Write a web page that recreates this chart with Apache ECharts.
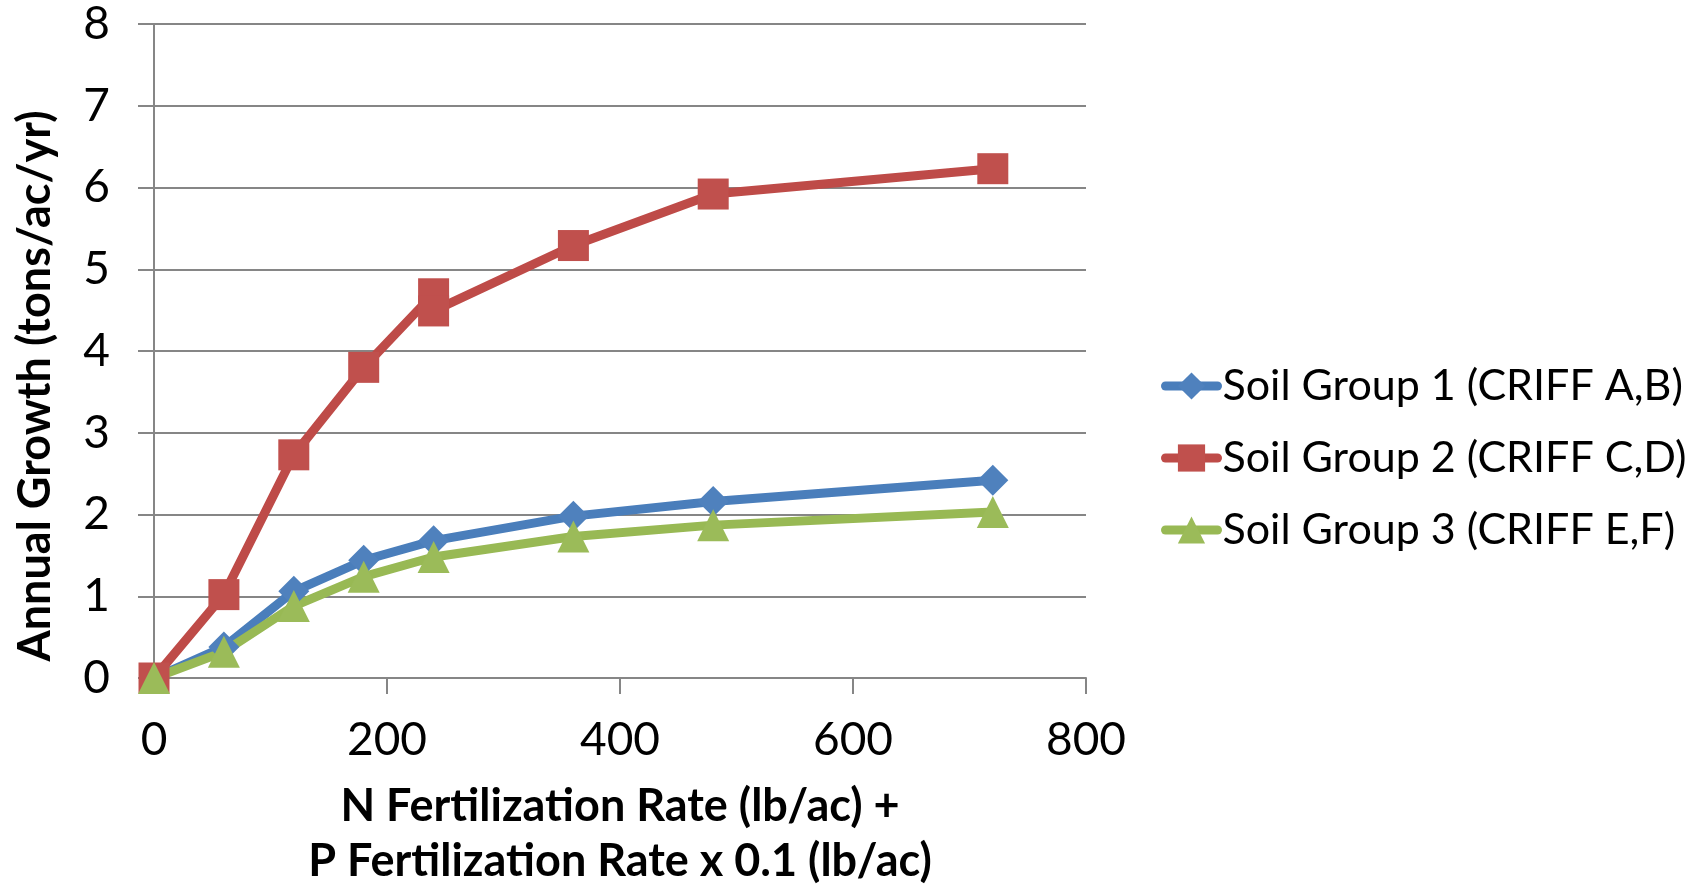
<!DOCTYPE html>
<html>
<head>
<meta charset="utf-8">
<title>Annual Growth vs Fertilization Rate</title>
<script src="https://cdn.jsdelivr.net/npm/echarts@6/dist/echarts.min.js"></script>
<style>
  html, body { margin: 0; padding: 0; background: #ffffff; }
  #chart { width: 1699px; height: 894px; }
</style>
</head>
<body>
<div id="chart"></div>
<script>
// Fertilization rate (N + 0.1 P, lb/ac) for each observation
const rateGroup1 = [0, 60, 120, 180, 240, 360, 480, 720];
const rateGroup2 = [0, 60, 120, 180, 240, 240, 360, 480, 720];
const rateGroup3 = [0, 60, 120, 180, 240, 360, 480, 720];

// Annual growth (tons/ac/yr)
const growthGroup1 = [0, 0.38, 1.06, 1.44, 1.68, 1.98, 2.16, 2.42];
const growthGroup2 = [0, 1.02, 2.73, 3.80, 4.70, 4.49, 5.29, 5.92, 6.23];
const growthGroup3 = [0, 0.32, 0.88, 1.24, 1.48, 1.73, 1.87, 2.03];

const seriesNames = [
  'Soil Group 1 (CRIFF A,B)',
  'Soil Group 2 (CRIFF C,D)',
  'Soil Group 3 (CRIFF E,F)'
];

const xTicks = [0, 200, 400, 600, 800];
const yTicks = [0, 1, 2, 3, 4, 5, 6, 7, 8];

const FONT = 'Lato';
const GRID_COLOR = '#868686';

function pairs(xs, ys) {
  return xs.map((x, i) => [x, ys[i]]);
}

function lineSeries(name, data, symbol, size, lineColor, markColor) {
  return {
    name: name,
    type: 'line',
    data: data,
    symbol: symbol,
    symbolSize: size,
    showAllSymbol: true,
    lineStyle: { color: lineColor, width: 9, cap: 'round', join: 'round' },
    itemStyle: { color: markColor },
    emphasis: { disabled: true },
    animation: false,
    z: 3
  };
}

const chart = echarts.init(document.getElementById('chart'), null, { renderer: 'canvas' });

chart.setOption({
  backgroundColor: '#ffffff',
  textStyle: { fontFamily: FONT },
  grid: { left: 154, right: 613, top: 24, bottom: 208, containLabel: false },
  xAxis: {
    type: 'value',
    min: xTicks[0],
    max: xTicks[xTicks.length - 1],
    interval: xTicks[1] - xTicks[0],
    name: 'N Fertilization Rate (lb/ac) +\nP Fertilization Rate x 0.1 (lb/ac)',
    nameLocation: 'middle',
    nameGap: 101,
    nameTextStyle: { fontFamily: FONT, fontWeight: 'bold', fontSize: 45, lineHeight: 55, color: '#000' },
    axisLine: { show: true, onZero: false, lineStyle: { color: GRID_COLOR, width: 2 } },
    axisTick: { show: true, inside: false, length: 16, lineStyle: { color: GRID_COLOR, width: 2 } },
    axisLabel: { margin: 38, fontFamily: FONT, fontSize: 46, lineHeight: 48, color: '#000' },
    splitLine: { show: false }
  },
  yAxis: {
    type: 'value',
    min: yTicks[0],
    max: yTicks[yTicks.length - 1],
    interval: yTicks[1] - yTicks[0],
    axisLine: { show: true, onZero: false, lineStyle: { color: GRID_COLOR, width: 2 } },
    axisTick: { show: true, inside: false, length: 16, lineStyle: { color: GRID_COLOR, width: 2 } },
    axisLabel: { margin: 44, fontFamily: FONT, fontSize: 46, color: '#000' },
    splitLine: { show: true, lineStyle: { color: GRID_COLOR, width: 2 } }
  },
  legend: {
    orient: 'vertical',
    left: 1156,
    top: 357,
    itemWidth: 52,
    itemHeight: 34,
    itemGap: 24,
    selectedMode: false,
    lineStyle: { width: 9, cap: 'round' },
    textStyle: { fontFamily: FONT, fontSize: 43, lineHeight: 48, color: '#000' },
    data: seriesNames
  },
  graphic: [{
    type: 'text',
    x: 35,
    y: 386,
    rotation: Math.PI / 2,
    style: {
      text: 'Annual Growth (tons/ac/yr)',
      fontFamily: FONT,
      fontWeight: 'bold',
      fontSize: 45,
      fill: '#000',
      align: 'center',
      verticalAlign: 'middle'
    }
  }],
  series: [
    lineSeries(seriesNames[0], pairs(rateGroup1, growthGroup1), 'diamond', 31, '#4A7EBB', '#4F81BD'),
    lineSeries(seriesNames[1], pairs(rateGroup2, growthGroup2), 'rect', 31, '#BE4B48', '#C0504D'),
    lineSeries(seriesNames[2], pairs(rateGroup3, growthGroup3), 'triangle', 32, '#98B954', '#9BBB59')
  ]
});
</script>
</body>
</html>
